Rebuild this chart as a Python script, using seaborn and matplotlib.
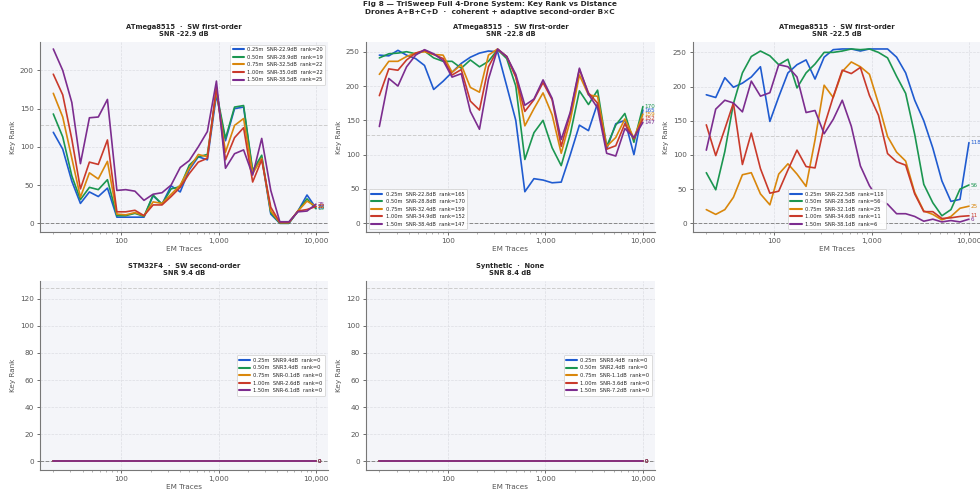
import matplotlib
matplotlib.use("Agg")
import matplotlib.pyplot as plt
from matplotlib.ticker import FuncFormatter, LogLocator, NullFormatter
import pandas as pd
import seaborn as sns

# Number of EM traces at each evaluation step (log-spaced)
TRACES = [20, 25, 31, 38, 47, 58, 72, 90, 111, 138, 171, 212, 262, 325, 403,
          499, 618, 766, 949, 1176, 1457, 1805, 2237, 2771, 3434, 4254, 5271,
          6531, 8092, 10000]

DISTANCES = ["0.25m", "0.50m", "0.75m", "1.00m", "1.50m"]
COLORS = ["#1f5bd0", "#1b9650", "#d9870c", "#c93a2b", "#7c2d8f"]

# --- ATmega8515, SW first-order (panel A) ---
A_TITLE = ("ATmega8515", "SW first-order", -22.9)
A_SNR = [-22.9, -28.9, -32.5, -35.0, -38.5]
A_025 = [119, 97, 55, 26, 41, 35, 46, 8, 8, 8, 8, 36, 25, 49, 41, 70, 87, 83,
         168, 108, 150, 152, 67, 86, 12, 0, 0, 16, 37, 20]
A_050 = [143, 113, 62, 31, 47, 44, 57, 10, 10, 13, 9, 37, 25, 45, 48, 76, 87, 90,
         172, 111, 152, 154, 69, 89, 14, 0, 0, 16, 32, 19]
A_075 = [170, 139, 85, 34, 66, 58, 81, 12, 11, 14, 10, 28, 26, 38, 50, 72, 90, 87,
         175, 93, 128, 137, 65, 85, 16, 1, 1, 16, 29, 22]
A_100 = [195, 168, 110, 45, 80, 77, 109, 15, 15, 17, 10, 24, 24, 35, 47, 65, 80, 85,
         178, 83, 112, 125, 54, 83, 21, 1, 1, 16, 18, 22]
A_150 = [228, 200, 158, 78, 138, 139, 162, 43, 44, 42, 30, 38, 40, 50, 73, 82, 100,
         120, 186, 72, 91, 96, 63, 111, 43, 2, 2, 15, 16, 25]

# --- ATmega8515, SW first-order (panel B) ---
B_TITLE = ("ATmega8515", "SW first-order", -22.8)
B_SNR = [-22.8, -28.8, -32.4, -34.9, -38.4]
B_025 = [245, 244, 252, 245, 240, 230, 195, 207, 220, 233, 242, 248, 251, 250,
         200, 150, 46, 65, 63, 59, 60, 100, 143, 135, 175, 108, 145, 150, 100, 165]
B_050 = [241, 247, 248, 250, 247, 251, 241, 236, 236, 226, 238, 228, 236, 253,
         240, 200, 93, 132, 150, 110, 84, 130, 193, 173, 194, 112, 143, 160, 118, 170]
B_075 = [217, 236, 236, 243, 248, 250, 246, 245, 220, 231, 198, 191, 245, 254,
         243, 215, 142, 167, 190, 158, 102, 150, 216, 187, 185, 112, 125, 152, 124, 159]
B_100 = [186, 225, 223, 238, 248, 252, 246, 240, 216, 224, 178, 165, 228, 253,
         243, 213, 163, 180, 205, 180, 112, 160, 224, 190, 175, 108, 113, 145, 123, 152]
B_150 = [141, 211, 200, 228, 245, 253, 247, 237, 213, 218, 163, 137, 210, 254,
         243, 217, 172, 181, 209, 182, 122, 162, 226, 188, 168, 102, 98, 138, 125, 147]

# --- ATmega8515, SW first-order (panel C) ---
C_TITLE = ("ATmega8515", "SW first-order", -22.5)
C_SNR = [-22.5, -28.5, -32.1, -34.6, -38.1]
C_025 = [188, 184, 213, 199, 205, 214, 229, 149, 185, 220, 232, 239, 211, 243,
         254, 255, 255, 252, 255, 255, 255, 243, 220, 180, 150, 110, 62, 32, 35, 118]
C_050 = [74, 49, 105, 175, 220, 244, 252, 245, 232, 240, 198, 220, 233, 250,
         250, 252, 255, 254, 255, 250, 242, 215, 190, 130, 57, 30, 11, 20, 50, 56]
C_075 = [20, 13, 20, 38, 71, 74, 43, 27, 72, 87, 72, 54, 122, 202, 184, 222, 236,
         229, 218, 175, 127, 104, 91, 45, 18, 13, 5, 10, 22, 25]
C_100 = [144, 99, 138, 176, 86, 132, 80, 44, 47, 78, 107, 83, 81, 142, 185, 224,
         219, 228, 187, 158, 102, 90, 85, 43, 17, 17, 7, 8, 10, 11]
C_150 = [107, 167, 180, 176, 163, 208, 186, 191, 232, 229, 214, 162, 165, 131,
         152, 180, 142, 84, 55, 35, 28, 14, 14, 10, 3, 6, 2, 4, 2, 6]

# --- STM32F4, SW second-order ---
D_TITLE = ("STM32F4", "SW second-order", 9.4)
D_SNR = [9.4, 3.4, -0.1, -2.6, -6.1]
D_ALL = [0] * len(TRACES)

# --- Synthetic, no countermeasure ---
E_TITLE = ("Synthetic", "None", 8.4)
E_SNR = [8.4, 2.4, -1.1, -3.6, -7.2]
E_ALL = [0] * len(TRACES)

PANELS = [
    (A_TITLE, A_SNR, [A_025, A_050, A_075, A_100, A_150], "upper right"),
    (B_TITLE, B_SNR, [B_025, B_050, B_075, B_100, B_150], "lower left"),
    (C_TITLE, C_SNR, [C_025, C_050, C_075, C_100, C_150], "lower center"),
    (D_TITLE, D_SNR, [D_ALL] * 5, "center right"),
    (E_TITLE, E_SNR, [E_ALL] * 5, "center right"),
]

KEY_SPACE = 128

sns.set_theme(style="whitegrid")
plt.rcParams["font.family"] = ["DejaVu Sans"]

W, H = 980, 494
fig = plt.figure(figsize=(W / 100, H / 100), dpi=100)

# axes boxes in pixel units: (left, top, width, height)
BOXES = [(40, 42, 288, 190), (366, 42, 289, 190), (693, 42, 288, 190),
         (40, 281, 288, 189), (366, 281, 289, 189)]

fig.text(0.5, 0.997,
         "Fig 8 — TriSweep Full 4-Drone System: Key Rank vs Distance\n"
         "Drones A+B+C+D  ·  coherent + adaptive second-order B×C",
         ha="center", va="top", fontsize=5.3, fontweight="bold", linespacing=1.3)

for (chip, method, snr0), snrs, series, loc in PANELS:
    i = len(fig.axes)
    l, t, w, h = BOXES[i]
    ax = fig.add_axes([l / W, 1 - (t + h) / H, w / W, h / H])
    ax.set_facecolor("#f4f5f9")

    rows = []
    labels = []
    for d, s, vals in zip(DISTANCES, snrs, series):
        lab = f"{d}  SNR{s:.1f}dB  rank={vals[-1]}"
        labels.append(lab)
        for x, v in zip(TRACES, vals):
            rows.append({"traces": x, "rank": v, "label": lab})
    df = pd.DataFrame(rows)

    sns.lineplot(data=df, x="traces", y="rank", hue="label", hue_order=labels,
                 palette=COLORS, linewidth=1.2, ax=ax, legend=True)

    top = max(max(max(v) for v in series), KEY_SPACE)
    ax.axhline(0, color="#888888", lw=0.7, ls="--", zorder=1)
    ax.axhline(KEY_SPACE, color="#cccccc", lw=0.7, ls="--", zorder=1)

    for c, vals in zip(COLORS, series):
        ax.annotate(str(vals[-1]), xy=(TRACES[-1], vals[-1]), xytext=(1.2, 0),
                    textcoords="offset points", fontsize=4.1, color=c,
                    va="center", ha="left")

    ax.set_xscale("log")
    ax.set_xlim(14.6, 13300)
    ax.set_ylim(-0.05 * top, 1.04 * top)
    ax.xaxis.set_major_locator(LogLocator(base=10))
    ax.xaxis.set_major_formatter(FuncFormatter(lambda v, p: f"{int(round(v)):,}"))
    ax.xaxis.set_minor_locator(LogLocator(base=10, subs=range(2, 10)))
    ax.xaxis.set_minor_formatter(NullFormatter())

    ax.grid(True, which="major", color="#dcdde3", lw=0.5, ls="--")
    ax.grid(False, which="minor")
    for side in ("top", "right"):
        ax.spines[side].set_visible(False)
    for side in ("left", "bottom"):
        ax.spines[side].set_color("#777777")
        ax.spines[side].set_linewidth(0.8)
    ax.tick_params(axis="both", which="major", labelsize=5.2, colors="#555555",
                   length=2.5, width=0.6, pad=2, bottom=True, left=True)
    ax.tick_params(axis="x", which="minor", length=1.5, width=0.4,
                   colors="#777777", bottom=True)

    ax.set_xlabel("EM Traces", fontsize=5.2, color="#555555", labelpad=1.5)
    ax.set_ylabel("Key Rank", fontsize=5.2, color="#555555", labelpad=3)
    ax.set_title(f"{chip}  ·  {method}\nSNR {snr0:.1f} dB", fontsize=4.9,
                 fontweight="bold", pad=4, linespacing=1.3)

    leg = ax.legend(loc=loc, fontsize=3.7, frameon=True, handlelength=2.2,
                    borderpad=0.5, labelspacing=0.5, handletextpad=0.6)
    leg.get_frame().set_facecolor("white")
    leg.get_frame().set_edgecolor("#cccccc")
    leg.get_frame().set_linewidth(0.5)
    leg.get_frame().set_alpha(0.95)
    for hl in leg.get_lines():
        hl.set_linewidth(1.5)

fig.savefig("out.png", dpi=100)
